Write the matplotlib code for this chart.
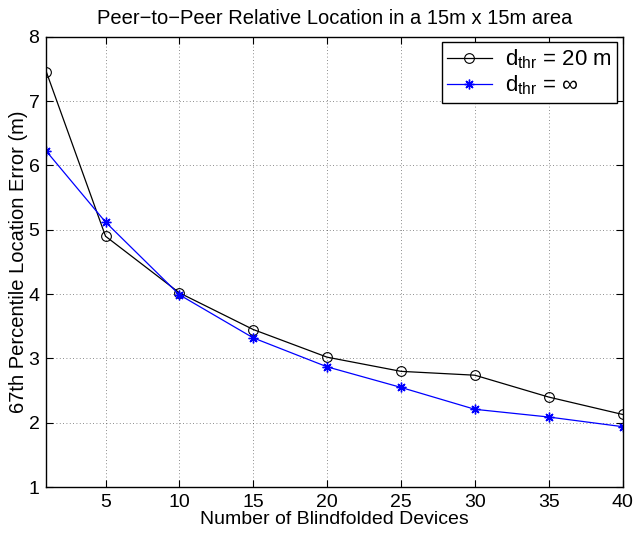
import matplotlib
matplotlib.use('Agg')
import matplotlib.pyplot as plt
import numpy as np

plt.rcParams["font.family"] = "Liberation Sans"
plt.rcParams["mathtext.fontset"] = "custom"
plt.rcParams["mathtext.rm"] = "Liberation Sans"
plt.rcParams["mathtext.it"] = "Liberation Sans"

devices = [1, 5, 10, 15, 20, 25, 30, 35, 40]
err_thr20 = [7.45, 4.90, 4.02, 3.45, 3.02, 2.80, 2.74, 2.40, 2.13]
err_thrinf = [6.22, 5.12, 3.99, 3.32, 2.87, 2.55, 2.21, 2.09, 1.94]
xticks = [5, 10, 15, 20, 25, 30, 35, 40]

fig = plt.figure(figsize=(6.36, 5.33), dpi=100)
ax = fig.add_axes([0.073, 0.086, 0.906, 0.845])

ax.plot(devices, err_thr20, color='black', lw=0.9, marker='o', ms=7,
        mfc='none', mec='black', mew=0.8, label=r'$\mathregular{d_{thr}}$ = 20 m')
ax.plot(devices, err_thrinf, color='blue', lw=0.9, marker=(8, 2, 0), ms=7,
        mfc='none', mec='blue', mew=1.0, label=r'$\mathregular{d_{thr}}$ = $\infty$')

ax.set_xlim(1, 40)
ax.set_ylim(1, 8)
ax.set_xticks(xticks)
ax.set_yticks(range(1, 9))
ax.tick_params(direction='in', labelsize=14, length=5, top=True, right=True)
ax.tick_params(axis='x', pad=5)
ax.tick_params(axis='y', pad=5)
ax.grid(True, linestyle=(0, (1, 3)), color='black', lw=0.6, alpha=0.6)
for s in ax.spines.values():
    s.set_linewidth(1.0)

ax.set_xlabel('Number of Blindfolded Devices', fontsize=14, labelpad=0)
ax.set_ylabel('67th Percentile Location Error (m)', fontsize=14.5, labelpad=0)
ax.set_title('Peer\u2212to\u2212Peer Relative Location in a 15m x 15m area', fontsize=14.5, pad=9)

leg = ax.legend(loc='upper right', fontsize=16, fancybox=False, edgecolor='black',
                framealpha=1, borderaxespad=0.25, handlelength=2.0, labelspacing=0.1,
                borderpad=0.25, handletextpad=0.6)
leg.get_frame().set_linewidth(1.0)

fig.savefig('out.png', dpi=100)
